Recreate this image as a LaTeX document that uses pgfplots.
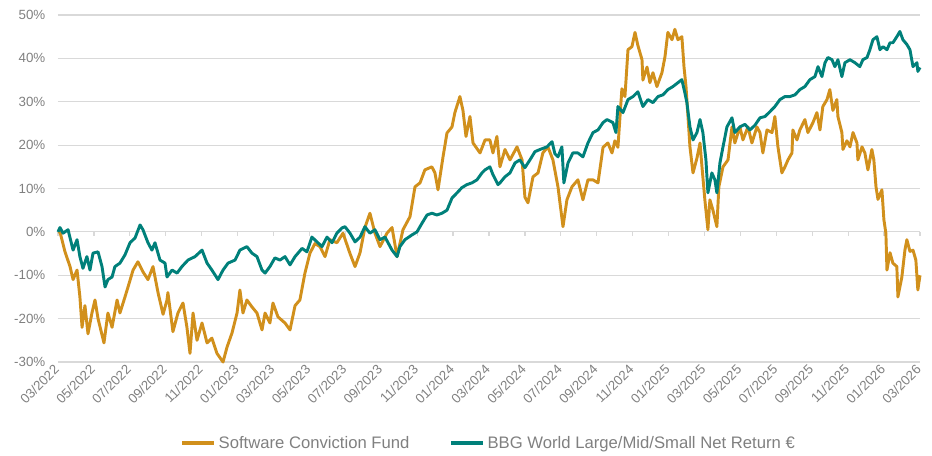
\documentclass[border=0pt]{standalone}
\usepackage{fontspec}
\setmainfont{Liberation Sans}
\usepackage{pgfplots}
\usepackage{pgfplotstable}
\pgfplotsset{compat=1.18}
\definecolor{gold}{RGB}{209,144,28}
\definecolor{teal2}{RGB}{0,128,122}
\definecolor{gridgray}{RGB}{217,217,217}
\definecolor{txtgray}{RGB}{128,128,128}

\pgfplotstableread{
m v
0 0
0.11 0
0.39 -4.6
0.67 -8
0.84 -11
1.06 -8.8
1.22 -15
1.34 -22
1.50 -17
1.67 -23.5
1.89 -18.7
2.06 -15.7
2.23 -20
2.56 -25.6
2.78 -18.7
3.01 -22
3.29 -15.7
3.45 -18.7
3.73 -15
3.90 -12.7
4.18 -8.8
4.45 -6.9
4.73 -9.2
5.01 -11
5.29 -8
5.57 -14
5.85 -19
6.07 -15.7
6.12 -14
6.40 -23
6.68 -18.7
6.96 -16.4
7.18 -22
7.35 -28
7.52 -18.7
7.74 -25
8.02 -21
8.30 -25.6
8.57 -24.5
8.85 -28
9.19 -30
9.41 -26.6
9.69 -23.3
9.97 -18.7
10.13 -13.4
10.30 -18.7
10.52 -15.7
10.80 -17.3
11.08 -18.7
11.36 -22.6
11.53 -18.7
11.80 -21
11.97 -16.4
12.25 -19.6
12.64 -21
12.92 -22.6
13.20 -17
13.47 -15.7
13.75 -9.5
14.03 -4.9
14.31 -2.7
14.59 -3.4
14.87 -5.7
15.14 -1.8
15.53 -2.5
15.87 -0.3
16.26 -5
16.54 -8
16.82 -4.8
17.09 1
17.37 4.3
17.65 -0.3
17.93 -3.4
18.32 -0.3
18.60 1
18.88 -5.7
19.21 0.5
19.60 3.5
19.88 10.4
20.16 11.3
20.43 14.3
20.82 15
20.99 13.6
21.16 9.7
21.44 17.3
21.66 22.8
21.94 24.2
22.10 27.5
22.38 31.2
22.55 28
22.72 22
22.94 26.6
23.11 20.5
23.50 18.2
23.78 21.2
24.05 21.2
24.22 18.2
24.44 22
24.61 15
24.89 19
25.17 16.6
25.56 19.6
25.84 16.6
26.00 8
26.17 6.7
26.45 12.7
26.73 13.6
27.00 18.2
27.28 19.6
27.56 16.6
27.84 10.4
28.12 1.2
28.34 7.4
28.62 10.4
28.95 12
29.23 7.4
29.51 12
29.79 12
30.07 11.3
30.35 19.5
30.62 20.5
30.85 18.2
31.01 21
31.18 19.5
31.40 33
31.57 31.2
31.74 42
31.96 42.7
32.13 46
32.29 43
32.52 39.7
32.57 35
32.80 38
32.96 34.4
33.13 36.7
33.35 33.5
33.63 36.7
33.80 40.4
33.96 46
34.19 44.3
34.35 46.7
34.52 44.3
34.74 45
34.86 38
34.97 33.5
35.08 26.6
35.19 19.6
35.36 13.6
35.58 17
35.75 20.5
35.86 15
36.02 7.4
36.19 0.5
36.30 7.4
36.47 5
36.69 1.2
36.80 10.4
37.03 15
37.31 16.6
37.53 24.2
37.69 20.5
37.97 24.2
38.14 21.2
38.42 24.2
38.64 20.5
38.92 24.2
39.09 22.9
39.25 18.2
39.48 23.5
39.76 22.9
39.92 26.6
40.09 19.6
40.31 13.6
40.48 15
40.65 16.6
40.87 18.2
40.92 23.5
41.15 21.2
41.31 23.5
41.59 25.9
41.76 22.9
42.04 25.2
42.26 27.5
42.43 23.5
42.59 28.9
42.82 30.5
42.98 32.8
43.15 28
43.37 30.5
43.43 26.6
43.65 22.9
43.71 19
43.93 21
44.10 19.6
44.27 22.9
44.49 20.5
44.54 16.6
44.77 19.6
44.93 18.2
45.10 14.3
45.32 19
45.43 16.6
45.55 10.4
45.66 7.5
45.88 9.7
45.99 2.8
46.10 -0.3
46.16 -8.8
46.33 -4.8
46.49 -7.2
46.71 -8
46.77 -15
46.99 -10.4
47.16 -4.2
47.27 -1.8
47.44 -4.5
47.61 -4.2
47.77 -6.5
47.88 -13.4
48.00 -10
}\fundtable

\pgfplotstableread{
m v
0 0
0.11 1
0.28 -0.3
0.56 0.5
0.84 -4.2
1.06 -1.8
1.22 -5.7
1.39 -8.4
1.61 -5.7
1.78 -8.8
1.95 -4.9
2.23 -4.6
2.45 -8
2.62 -12.7
2.78 -11
3.01 -10.4
3.17 -8
3.45 -7.2
3.73 -5.3
4.01 -2.5
4.29 -1.4
4.57 1.6
4.73 0.5
5.01 -2.5
5.23 -4.2
5.40 -2.5
5.68 -6.5
5.96 -7.2
6.07 -10.4
6.35 -8.8
6.63 -9.5
6.90 -8
7.24 -6.5
7.63 -5.7
8.02 -4.2
8.30 -7.2
8.57 -8.8
8.91 -11
9.19 -8.8
9.47 -7.2
9.86 -6.5
10.13 -4.2
10.52 -3.4
10.80 -4.9
11.08 -5.7
11.36 -8.8
11.53 -9.5
11.80 -8
12.08 -6
12.36 -6.5
12.64 -5.7
12.92 -7.6
13.20 -5.7
13.59 -3.8
13.86 -4.6
14.14 -1.2
14.42 -2.3
14.70 -3.4
14.98 -1.2
15.26 -2.5
15.53 -0.3
15.81 0.9
15.98 1.2
16.26 -0.3
16.54 -2.3
16.82 -1.2
17.09 1.2
17.37 -0.3
17.65 0.5
17.93 -1.8
18.21 -1.2
18.60 -4.2
18.88 -5.7
19.04 -3.4
19.32 -1.8
19.71 -0.7
19.99 0
20.27 2
20.55 3.9
20.82 4.3
21.10 3.9
21.38 4.3
21.66 5
21.94 7.8
22.22 9
22.49 10.2
22.77 10.9
23.05 11.3
23.33 12
23.61 13.6
23.78 14.3
24.05 15
24.22 13.2
24.50 10.9
24.61 11.3
24.89 12.7
25.17 13.6
25.45 15.9
25.72 16.6
26.00 14.8
26.28 16.6
26.56 18.5
26.84 19
27.23 19.6
27.51 20.8
27.67 18
27.84 17.3
28.06 19.6
28.17 11.3
28.40 15.9
28.67 18.2
28.95 18.2
29.23 17.3
29.51 20.5
29.79 22.9
30.07 23.5
30.35 25.2
30.57 25.9
30.90 25.2
31.07 22.9
31.18 28.9
31.46 27.5
31.74 30.5
32.02 31.2
32.29 32.3
32.57 28.9
32.85 30.5
33.13 29.8
33.41 31.2
33.69 31.6
33.96 32.8
34.24 33.5
34.52 34.4
34.74 35.1
34.91 32
35.02 29.8
35.19 24.2
35.36 21.2
35.58 22.9
35.75 25.9
35.91 22.9
36.08 16.6
36.19 9
36.41 13.6
36.58 12
36.69 9
36.86 15.9
37.03 19.6
37.25 24.2
37.53 26.3
37.69 22.9
37.97 24.2
38.25 24.8
38.53 23.5
38.81 24.6
39.09 26.3
39.37 26.6
39.64 27.7
39.92 28.9
40.20 30.5
40.48 31.2
40.76 31.2
41.04 31.6
41.31 32.8
41.59 33.5
41.87 35.1
42.15 35.8
42.32 38.1
42.54 35.8
42.71 39
42.87 40.2
43.10 39.7
43.26 38.1
43.43 39.7
43.65 35.8
43.82 39
44.10 39.7
44.38 39
44.65 38.1
44.82 39.7
45.05 40.2
45.21 42
45.38 44.3
45.60 45
45.77 42
45.94 42.7
46.16 42
46.33 43.6
46.49 43.6
46.71 45
46.88 46.2
47.05 44.3
47.27 43.2
47.44 42
47.61 38.1
47.83 39
47.88 37
48.00 37.9
}\indextable

\begin{document}
\begin{tikzpicture}
\useasboundingbox (-43.5pt,-69.75pt) rectangle (655.5pt,271.5pt);
\begin{axis}[
  scale only axis,
  width=646.5pt, height=260.25pt,
  at={(0,0)}, anchor=south west,
  xmin=0, xmax=48, ymin=-30, ymax=50,
  axis line style={draw=none},
  major tick length=0pt,
  ymajorgrids,
  grid style={gridgray, line width=0.9pt},
  ytick={-30,-20,...,50},
  yticklabels={-30\%,-20\%,-10\%,0\%,10\%,20\%,30\%,40\%,50\%},
  yticklabel style={anchor=east, xshift=-6pt},
  xtick={0,2,...,48},
  xticklabels={03/2022,05/2022,07/2022,09/2022,11/2022,01/2023,03/2023,05/2023,07/2023,09/2023,11/2023,01/2024,03/2024,05/2024,07/2024,09/2024,11/2024,01/2025,03/2025,05/2025,07/2025,09/2025,11/2025,01/2026,03/2026},
  xticklabel style={rotate=45, anchor=east, yshift=-2pt},
  tick label style={font=\fontsize{10pt}{12pt}\selectfont, text=txtgray},
  legend style={at={(0.5,0)}, anchor=center, yshift=-60.75pt, draw=none, fill=none,
    font=\fontsize{12.5pt}{14pt}\selectfont, text=txtgray,
    /tikz/every even column/.append style={column sep=28pt}},
  legend columns=2,
  legend cell align=left,
  legend image code/.code={\draw[#1, line width=2.6pt] (0pt,0pt) -- (24pt,0pt);},
  clip=false,
]
\pgfplotsinvokeforeach{0,2,...,48}{\draw[gridgray, line width=0.9pt] (axis cs:#1,0) -- ([yshift=-3pt]axis cs:#1,0);}
\addplot[gold, line width=2.2pt, line join=round] table[x=m,y=v]{\fundtable};
\addlegendentry{Software Conviction Fund}
\addplot[teal2, line width=2.2pt, line join=round] table[x=m,y=v]{\indextable};
\addlegendentry{BBG World Large/Mid/Small Net Return €}
\end{axis}
\end{tikzpicture}
\end{document}
